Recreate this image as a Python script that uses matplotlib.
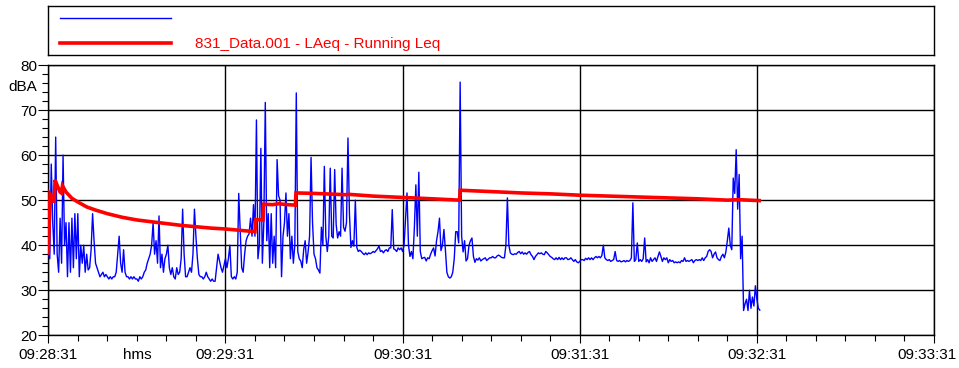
import numpy as np
import matplotlib
matplotlib.use("Agg")
import matplotlib.pyplot as plt
import matplotlib.transforms as mtransforms
from matplotlib.ticker import MultipleLocator, FixedLocator

plt.rcParams['font.family'] = ['Liberation Sans', 'DejaVu Sans']

# ---------------- data ----------------
# Blue trace: short-interval level (dBA), one value every 0.5 s from 09:28:31
blue_step_s = 0.5
blue_db = [
    38, 37, 58, 45, 38, 64, 38, 34, 46, 36, 60, 40, 45, 33, 45, 34, 46, 35, 47, 37,
    47, 33, 40, 36, 40, 34, 38, 34.5, 35, 39, 47, 41, 36, 35, 34, 33, 33.5, 34, 33, 33.5,
    33, 32.5, 33, 32.5, 33, 33, 34, 38, 42, 36, 34, 39, 34, 33, 33, 32.5, 33, 32.5, 33, 32.5,
    32.5, 32, 33, 32.5, 33, 34, 34.5, 36, 37, 38, 40, 45, 38, 41, 36, 46.5, 35, 38, 34, 37,
    38, 40, 35, 33.5, 35, 33, 32.5, 35, 33.5, 34, 37, 48, 38, 33, 33, 34, 35, 34, 38, 48,
    42, 37, 33.5, 33, 33, 32.5, 33, 34, 33, 32.5, 32, 32.5, 32, 32, 35, 38, 36.5, 35, 34, 35.5,
    37, 35, 37, 40, 33, 32.5, 33, 32.5, 34, 51.5, 43, 35, 34, 38, 41, 42, 42.5, 46, 42, 49,
    42, 67.8, 37, 40, 61.5, 36, 45, 71.7, 41, 47, 35, 47, 36, 42, 35, 59, 51, 50, 33, 42,
    45, 51.6, 42, 47, 37, 42, 36, 40, 73.8, 38.6, 37, 36.5, 35, 39, 41, 36, 38.5, 42, 59.5, 45,
    38, 37, 35, 34.5, 33.8, 44, 40, 57.5, 42, 38.6, 42, 57.1, 42, 41.6, 56.8, 44.6, 41.6, 43, 42, 57.1,
    44, 43.1, 45, 63.8, 47, 39.5, 41, 39.8, 50, 39.5, 38.6, 38.9, 38.6, 38.2, 37.9, 38.3, 37.9, 38.3, 38.1, 38.3,
    38.6, 38.4, 38.8, 39.2, 39.8, 38.6, 38.8, 38.3, 38.8, 39, 38.6, 39.4, 39.4, 47.9, 39.2, 39, 38.6, 39.4, 39, 39.4,
    38.6, 40, 46, 51.6, 40, 37.5, 38.6, 37, 44, 53.4, 42, 56.2, 38.6, 37, 37.2, 37.3, 36.5, 37.2, 37, 38,
    38.8, 39.4, 37.6, 41, 43, 46, 38.8, 40, 43.5, 39, 34, 33, 32.7, 33, 34, 37, 43, 43, 40.5, 76.2,
    42, 38.5, 41, 36.5, 37, 40, 41, 41.6, 37.5, 36.2, 37, 36.7, 37.2, 36.5, 36.8, 37, 37.2, 36.6, 36.9, 37.2,
    37.2, 37.5, 37.2, 37.2, 37.6, 37.8, 37.6, 37.3, 37.2, 37.2, 40, 50.5, 40, 38.3, 38, 37.9, 38.1, 38, 38.4, 38.6,
    38.1, 38.5, 38, 38.3, 38, 38.4, 38.6, 37.9, 37.5, 36.8, 37.5, 37.9, 38.3, 38.1, 38.3, 38, 37.9, 38.6, 38.3, 37.9,
    37.5, 37.3, 37, 36.8, 37.2, 36.8, 37.3, 36.8, 37.2, 36.8, 37.2, 37.2, 36.8, 36.9, 37.2, 36.8, 36.4, 36.8, 36.3, 36.1,
    36.4, 36.8, 36.8, 36.6, 37.1, 36.8, 37.2, 36.8, 37.2, 36.8, 37.2, 37.5, 37.2, 37.5, 37.2, 37.7, 40, 37.2, 36.8, 36.6,
    36.8, 36.4, 36.6, 36.8, 38.6, 36.6, 36.4, 36.6, 36.3, 36.4, 36.6, 36.3, 36.6, 36.4, 36.6, 37.2, 49.4, 36.4, 36.8, 40.5,
    36.4, 36.8, 36.4, 37, 41.6, 36.3, 36.8, 36.1, 37.2, 36.4, 36.8, 37.2, 36.4, 37.5, 38.5, 37.5, 36.4, 37.2, 36.8, 37.2,
    36.1, 36.8, 36.4, 36.6, 36.1, 36.3, 36.1, 36.3, 36.1, 36.6, 36.4, 37.2, 36.4, 36.6, 36.4, 36.6, 36.8, 36.1, 36.6, 36.8,
    36.6, 36.8, 36.6, 37.2, 36.6, 37.2, 37.5, 38.6, 39, 38.6, 37.2, 38, 38.5, 37.2, 36.8, 36.6, 37.5, 38, 37.2, 38.5,
    41, 43.8, 40, 39, 54.9, 51.5, 61.2, 48, 55.7, 37, 42, 25.5, 27, 28, 25.5, 30, 26, 28.5, 26.5, 31,
    28, 26, 25.6,
]
blue_t = [i * blue_step_s for i in range(len(blue_db))]

# Red trace: running Leq (dBA), read at its break points (seconds from 09:28:31)
red_t = [0, 0.6, 1.5, 2.0, 2.3, 3.0, 4.0, 4.4, 4.8, 6, 8, 10, 13, 16, 20, 25, 30, 35, 40,
         45, 50, 55, 60, 65, 70, 70.3, 72.7, 72.9, 76, 78, 81, 83.7, 83.9, 90, 101, 101.6,
         110, 120, 130, 139.3, 139.5, 150, 160, 170, 180, 190, 200, 210, 220, 230, 234, 240.8]
red_db = [38.3, 51.3, 50.5, 49.5, 54.5, 53.3, 51.8, 51.6, 53.2, 51.8, 50.4, 49.6, 48.5, 47.8, 47.0, 46.2, 45.6, 45.2, 44.8,
          44.4, 44.1, 43.8, 43.6, 43.3, 43.0, 45.7, 45.6, 49.1, 49.0, 49.2, 49.0, 48.9, 51.6, 51.5, 51.2, 51.3,
          50.9, 50.6, 50.3, 50.0, 52.2, 51.9, 51.6, 51.4, 51.1, 50.9, 50.7, 50.5, 50.3, 50.0, 50.1, 49.9]

x_tick_pos = [0, 60, 120, 180, 240, 300]
x_tick_labels = ["09:28:31", "09:29:31", "09:30:31", "09:31:31", "09:32:31", "09:33:31"]
y_ticks = [20, 30, 40, 50, 60, 70, 80]
red_label = "831_Data.001 - LAeq - Running Leq"

# ---------------- figure ----------------
W, H = 959, 368
fig = plt.figure(figsize=(W / 100, H / 100), dpi=100)
fs = 11

ax = fig.add_axes([48.3 / W, 1 - 335.3 / H, 885.7 / W, 270.3 / H])
blue_line, = ax.plot(blue_t, blue_db, color="#0000FF", lw=1.0, zorder=3)
red_line, = ax.plot(red_t, red_db, color="#FF0000", lw=2.6, zorder=4, solid_joinstyle="miter")

ax.set_xlim(0, 300)
ax.set_ylim(20, 80)
ax.xaxis.set_major_locator(FixedLocator(x_tick_pos))
ax.set_xticklabels(x_tick_labels)
ax.xaxis.set_minor_locator(MultipleLocator(10))
ax.set_yticks(y_ticks)
ax.yaxis.set_minor_locator(MultipleLocator(2))
ax.grid(True, which="major", color="black", lw=1.0)
ax.set_axisbelow(True)
for s in ax.spines.values():
    s.set_color("black")
    s.set_linewidth(1.0)
ax.tick_params(axis="y", which="major", direction="out", length=7.5, width=0.8, pad=0.5, labelsize=fs)
ax.tick_params(axis="y", which="minor", direction="out", length=4, width=0.8)
ax.tick_params(axis="x", which="major", direction="out", length=6, width=0.8, pad=3, labelsize=fs)
ax.tick_params(axis="x", which="minor", direction="out", length=4.5, width=0.8)

# keep the last time label inside the picture (it sits on the right edge)
last_lbl = ax.get_xticklabels()[-1]
last_lbl.set_transform(last_lbl.get_transform() +
                       mtransforms.ScaledTranslation(-7 / 100, 0, fig.dpi_scale_trans))

fig.text(37.5 / W, 1 - 87 / H, "dBA", ha="right", va="center", fontsize=fs)
fig.text(137.5 / W, 1 - 355 / H, "hms", ha="center", va="center", fontsize=fs)

# legend panel
lax = fig.add_axes([48.3 / W, 1 - 55 / H, 885.7 / W, 49 / H])
lax.set_xticks([])
lax.set_yticks([])
for s in lax.spines.values():
    s.set_color("black")
    s.set_linewidth(1.0)
leg = lax.legend([blue_line, red_line], ["", red_label],
                 loc="upper left", bbox_to_anchor=((60 - 48.3) / 885.7, 1 - 6.0 / 49),
                 frameon=False, borderpad=0, borderaxespad=0,
                 handlelength=111 / (fs * 100 / 72), handletextpad=24 / (fs * 100 / 72),
                 labelspacing=0.72, fontsize=fs, labelcolor="linecolor")

fig.savefig("out.png", dpi=100)
